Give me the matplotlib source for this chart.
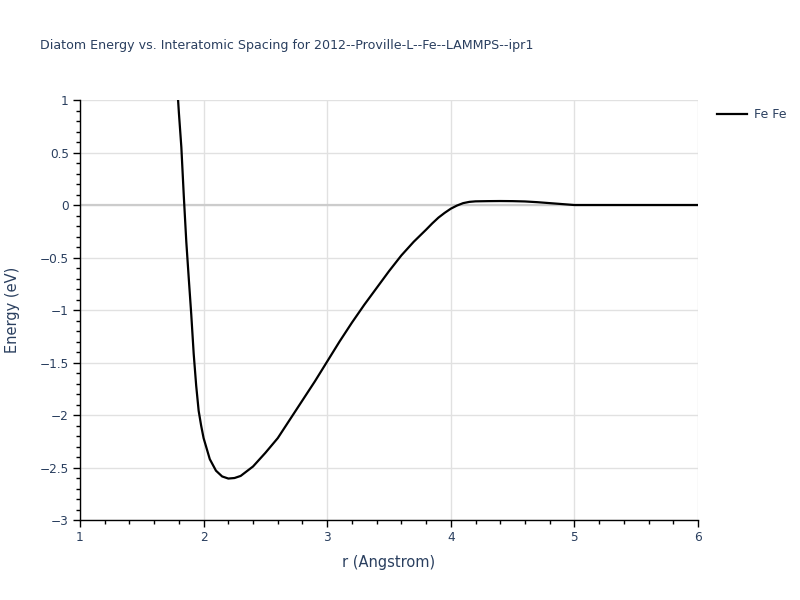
import matplotlib
matplotlib.use("Agg")
import matplotlib.pyplot as plt
from matplotlib.ticker import MultipleLocator

# Diatom energy curve
r = [1.78, 1.80, 1.82, 1.84, 1.86, 1.88, 1.90, 1.92, 1.94, 1.96, 1.98, 2.00,
     2.05, 2.10, 2.15, 2.20, 2.25, 2.30, 2.40, 2.50, 2.60, 2.70, 2.80, 2.90,
     3.00, 3.10, 3.20, 3.30, 3.40, 3.50, 3.60, 3.70, 3.80, 3.85, 3.90, 3.95,
     4.00, 4.05, 4.10, 4.15, 4.20, 4.30, 4.40, 4.50, 4.60, 4.70, 4.80, 4.90,
     5.00, 5.50, 6.00]
energy = [1.25, 0.88, 0.55, 0.08, -0.35, -0.70, -1.04, -1.42, -1.72, -1.96, -2.10, -2.22,
          -2.42, -2.53, -2.585, -2.605, -2.60, -2.58, -2.49, -2.36, -2.22, -2.04, -1.86, -1.68,
          -1.49, -1.30, -1.12, -0.95, -0.79, -0.63, -0.48, -0.35, -0.235, -0.175, -0.12, -0.075,
          -0.035, -0.005, 0.018, 0.030, 0.035, 0.037, 0.038, 0.037, 0.034, 0.027, 0.018, 0.009,
          0.0, 0.0, 0.0]
series_label = "Fe Fe"
title = "Diatom Energy vs. Interatomic Spacing for 2012--Proville-L--Fe--LAMMPS--ipr1"

txt = "#2a3f5f"
plt.rcParams['font.family'] = ['DejaVu Sans']

fig = plt.figure(figsize=(8, 6), dpi=100)
ax = fig.add_axes([0.1, 0.1333, 0.7725, 0.7])

ax.plot(r, energy, color="black", lw=1.6, label=series_label, zorder=3)

ax.set_xlim(1, 6)
ax.set_ylim(-3, 1)
ax.xaxis.set_major_locator(MultipleLocator(1))
ax.xaxis.set_minor_locator(MultipleLocator(0.2))
ax.yaxis.set_major_locator(MultipleLocator(0.5))
ax.yaxis.set_minor_locator(MultipleLocator(0.1))
ax.yaxis.set_major_formatter(plt.FuncFormatter(lambda v, p: ("%g" % v).replace("-", "\u2212")))

ax.grid(True, which="major", color="#e1e1e1", lw=1)
ax.axhline(0, color="#cccccc", lw=1.6, zorder=1)
ax.set_axisbelow(True)

for s in ["top", "right"]:
    ax.spines[s].set_visible(False)
for s in ["left", "bottom"]:
    ax.spines[s].set_color("black")
    ax.spines[s].set_linewidth(1)

ax.tick_params(which="major", direction="out", length=5, width=1, color="black",
               labelsize=8.7, labelcolor=txt, pad=3)
ax.tick_params(which="minor", direction="out", length=3, width=1, color="black")

ax.set_xlabel("r (Angstrom)", fontsize=10.5, color=txt, labelpad=8)
ax.set_ylabel("Energy (eV)", fontsize=10.5, color=txt, labelpad=14)

fig.text(0.05, 0.925, title, fontsize=9.1, color=txt, ha="left", va="center")

ax.legend(loc="upper left", bbox_to_anchor=(1.012, 1.008), frameon=False,
          fontsize=9, labelcolor=txt, handlelength=2.4, handletextpad=0.6)

fig.savefig("out.png", dpi=100)
